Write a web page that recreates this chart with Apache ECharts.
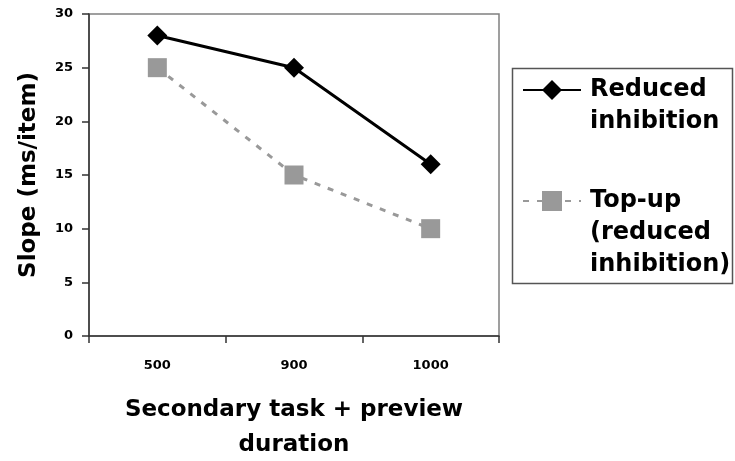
<!DOCTYPE html>
<html>
<head>
<meta charset="utf-8">
<script src="https://cdn.jsdelivr.net/npm/echarts@6/dist/echarts.min.js"></script>
<style>
  html, body { margin: 0; padding: 0; background: #fff; }
  #chart { width: 735px; height: 461px; }
</style>
</head>
<body>
<div id="chart"></div>
<script>
// Preview durations on the category axis
const durations = ['500', '900', '1000'];
// Search slopes (ms/item) per condition
const reducedInhibition = [28, 25, 16];
const topUpReduced = [25, 15, 10];
// Legend labels (line breaks as laid out in the key)
const nameReduced = 'Reduced inhibition';
const nameTopUp = 'Top-up (reduced inhibition)';
const legendText = {
  [nameReduced]: '\nReduced\ninhibition',
  [nameTopUp]: '\n\nTop-up\n(reduced\ninhibition)'
};

const FONT = 'DejaVu Sans';

const legendCommon = {
  orient: 'vertical',
  left: 522,
  padding: 0,
  itemWidth: 58,
  itemHeight: 25,
  formatter: n => legendText[n],
  textStyle: {
    fontFamily: FONT, fontWeight: 'bold', fontSize: 24, lineHeight: 32,
    color: '#000', padding: [0, 0, 0, 4]
  }
};

const chart = echarts.init(document.getElementById('chart'), null, { renderer: 'canvas' });
chart.setOption({
  animation: false,
  backgroundColor: '#fff',
  grid: {
    left: 89, top: 14, right: 236, bottom: 125,
    outerBoundsMode: 'none',
    show: true, borderColor: '#808080', borderWidth: 1.5
  },
  legend: [
    Object.assign({ top: 42, data: [nameReduced] }, legendCommon),
    Object.assign({ top: 121, data: [nameTopUp] }, legendCommon)
  ],
  graphic: [{
    type: 'rect',
    shape: { x: 512.5, y: 68.5, width: 220, height: 215 },
    style: { fill: 'none', stroke: '#555', lineWidth: 1.5 },
    silent: true
  }],
  xAxis: {
    type: 'category',
    data: durations,
    boundaryGap: true,
    name: 'Secondary task + preview\nduration',
    nameLocation: 'middle',
    nameGap: 57,
    nameMoveOverlap: false,
    nameTextStyle: { fontFamily: FONT, fontWeight: 'bold', fontSize: 23, lineHeight: 35, color: '#000' },
    axisLine: { lineStyle: { color: '#333', width: 1.5 } },
    axisTick: { show: true, inside: false, length: 7, alignWithLabel: false, lineStyle: { color: '#333', width: 1.5 } },
    axisLabel: { margin: 23, fontFamily: FONT, fontWeight: 'bold', fontSize: 13, color: '#000' },
    splitLine: { show: false }
  },
  yAxis: {
    type: 'value',
    min: 0, max: 30, interval: 5,
    name: 'Slope (ms/item)',
    nameLocation: 'middle',
    nameGap: 48,
    nameMoveOverlap: false,
    nameTextStyle: { fontFamily: FONT, fontWeight: 'bold', fontSize: 23, color: '#000' },
    axisLine: { show: true, lineStyle: { color: '#333', width: 1.5 } },
    axisTick: { show: true, length: 7, lineStyle: { color: '#333', width: 1.5 } },
    axisLabel: { margin: 16, fontFamily: FONT, fontWeight: 'bold', fontSize: 13, color: '#000' },
    splitLine: { show: false }
  },
  series: [
    {
      name: nameReduced,
      type: 'line',
      data: reducedInhibition,
      symbol: 'diamond',
      symbolSize: 20,
      lineStyle: { color: '#000', width: 3 },
      itemStyle: { color: '#000' },
      z: 3
    },
    {
      name: nameTopUp,
      type: 'line',
      data: topUpReduced,
      symbol: 'rect',
      symbolSize: 19,
      lineStyle: { color: '#999', width: 3, type: [6, 8] },
      itemStyle: { color: '#999' },
      z: 2
    }
  ]
});
</script>
</body>
</html>
